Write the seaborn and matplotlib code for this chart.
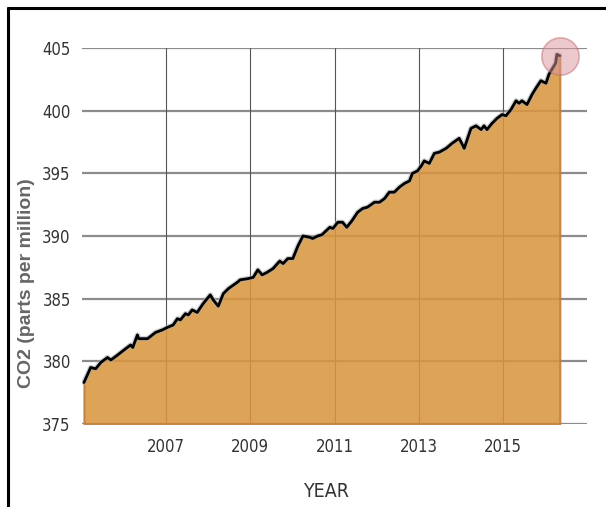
import matplotlib
matplotlib.use("Agg")
import matplotlib.pyplot as plt
import matplotlib.patheffects as pe
from matplotlib.lines import Line2D
import seaborn as sns
import pandas as pd

# monthly-ish CO2 readings
year = [2005.05, 2005.21, 2005.33, 2005.45, 2005.61, 2005.69, 2005.85,
        2006.04, 2006.16, 2006.21, 2006.32, 2006.35, 2006.56, 2006.75, 2006.91,
        2007.03, 2007.17, 2007.27, 2007.34, 2007.46, 2007.53, 2007.62, 2007.74, 2007.88,
        2008.05, 2008.12, 2008.24, 2008.36, 2008.48, 2008.69, 2008.76, 2008.95,
        2009.07, 2009.18, 2009.28, 2009.40, 2009.54, 2009.70, 2009.78, 2009.89,
        2010.01, 2010.13, 2010.25, 2010.41, 2010.48, 2010.60, 2010.70, 2010.89, 2010.96,
        2011.08, 2011.19, 2011.29, 2011.41, 2011.55, 2011.67, 2011.78, 2011.95,
        2012.07, 2012.19, 2012.30, 2012.42, 2012.54, 2012.66, 2012.78, 2012.85, 2012.97,
        2013.06, 2013.13, 2013.25, 2013.37, 2013.49, 2013.65, 2013.79, 2013.96,
        2014.08, 2014.24, 2014.36, 2014.48, 2014.55, 2014.62, 2014.74, 2014.86, 2014.98,
        2015.07, 2015.19, 2015.31, 2015.38, 2015.45, 2015.57, 2015.69, 2015.80, 2015.90,
        2016.02, 2016.09, 2016.16, 2016.25, 2016.28, 2016.35]
co2 = [378.3, 379.5, 379.4, 379.9, 380.3, 380.1, 380.5,
       381.0, 381.3, 381.1, 382.1, 381.8, 381.8, 382.3, 382.5,
       382.7, 382.9, 383.4, 383.3, 383.8, 383.7, 384.1, 383.9, 384.6,
       385.3, 384.9, 384.4, 385.4, 385.8, 386.3, 386.5, 386.6,
       386.7, 387.3, 386.9, 387.1, 387.4, 388.0, 387.8, 388.2,
       388.2, 389.2, 390.0, 389.9, 389.8, 390.0, 390.1, 390.7, 390.6,
       391.1, 391.1, 390.7, 391.2, 391.9, 392.2, 392.3, 392.7,
       392.7, 393.0, 393.5, 393.5, 393.9, 394.2, 394.4, 395.0, 395.2,
       395.6, 396.0, 395.8, 396.6, 396.7, 397.0, 397.4, 397.8,
       397.0, 398.6, 398.8, 398.5, 398.8, 398.5, 399.0, 399.4, 399.7,
       399.6, 400.1, 400.8, 400.6, 400.8, 400.5, 401.3, 401.9, 402.4,
       402.2, 402.9, 403.3, 403.8, 404.5, 404.4]

x_ticks = [2007, 2009, 2011, 2013, 2015]
y_ticks = [375, 380, 385, 390, 395, 400, 405]

df = pd.DataFrame({"year": year, "co2": co2})

sns.set_style("white")
tick_font = dict(family="DejaVu Sans", stretch="condensed", fontsize=12, color="#333333")

fig = plt.figure(figsize=(6.06, 5.07), dpi=100)
ax = fig.add_axes([0.135, 0.164, 0.834, 0.741])

# grid first so the slightly see-through fill lets it show faintly
for yv in y_ticks:
    ax.axhline(yv, color="#8c8c8c", lw=1.6, zorder=1)
for xv in x_ticks:
    ax.axvline(xv, color="#555555", lw=0.8, zorder=1)

ax.fill_between(df["year"], df["co2"], 375, color="#d9963f", alpha=0.88,
                edgecolor="#c07c35", lw=1.5, zorder=2)
sns.lineplot(data=df, x="year", y="co2", ax=ax, color="black", lw=2.0,
             zorder=4,
             path_effects=[pe.withStroke(linewidth=3.8, foreground="#b0b0b0", alpha=0.6)])

# highlight on latest reading
ax.scatter([year[-1]], [co2[-1]], s=720, color="#da949c", alpha=0.5,
           edgecolor="#c06a75", lw=1.2, zorder=5, clip_on=False)

ax.set_xlim(2005, 2017)
ax.set_ylim(375, 405)
ax.set_xticks(x_ticks)
ax.set_yticks(y_ticks)
ax.set_xticklabels([str(v) for v in x_ticks], **tick_font)
ax.set_yticklabels([str(v) for v in y_ticks], **tick_font)
ax.tick_params(axis="y", length=0, pad=8)
ax.tick_params(axis="x", length=0, pad=10)
for s in ax.spines.values():
    s.set_visible(False)

ax.set_xlabel("YEAR", family="DejaVu Sans", stretch="condensed", fontsize=14,
              color="#333333")
ax.xaxis.set_label_coords(0.483, -0.155)
ax.set_ylabel("CO2 (parts per million)", family="Liberation Sans", fontsize=14,
              fontweight="bold", color="#666666")
ax.yaxis.set_label_coords(-0.092, 0.375)

# frame lines at top and left of the picture
fig.add_artist(Line2D([8 / 606, 1], [1 - 8 / 507] * 2, color="black", lw=2.2))
fig.add_artist(Line2D([8 / 606] * 2, [0, 1 - 8 / 507], color="black", lw=2.2))

fig.savefig("out.png", dpi=100)
